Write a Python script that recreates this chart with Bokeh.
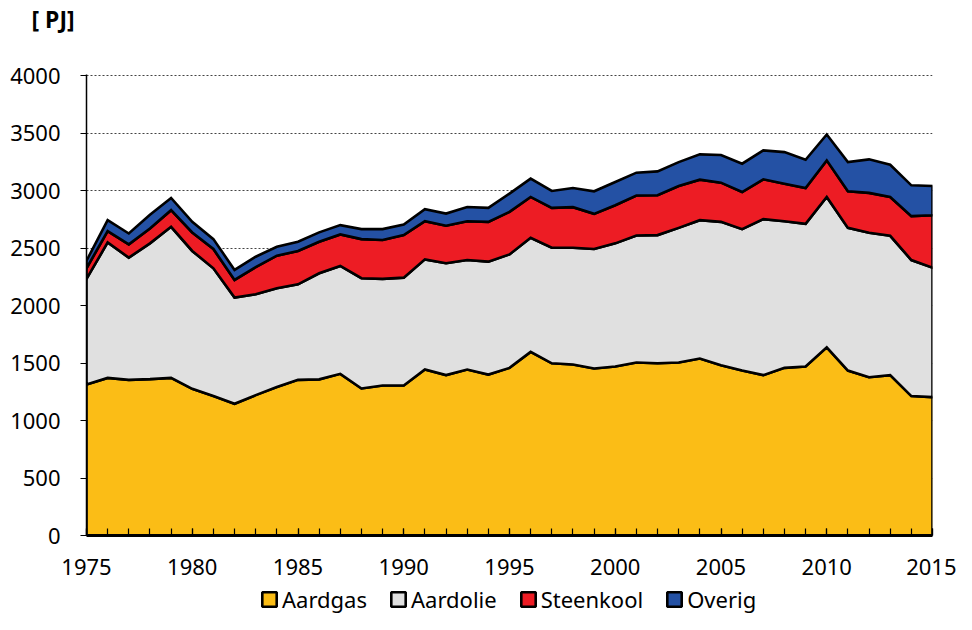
import numpy as np
from bokeh.plotting import figure
from bokeh.layouts import column
from bokeh.models import (Range1d, SingleIntervalTicker, Legend, LegendItem)
from bokeh.embed import file_html
from bokeh.resources import INLINE

years = list(range(1975, 2016))
aardgas = [1314, 1371, 1354, 1360, 1371, 1276, 1213, 1146, 1221, 1291, 1354, 1358, 1406, 1279, 1305, 1305,
           1444, 1395, 1444, 1400, 1458, 1597, 1498, 1487, 1453, 1470, 1505, 1498, 1505, 1539, 1481, 1435,
           1395, 1458, 1470, 1637, 1435, 1377, 1395, 1213, 1204]
aardolie = [918, 1178, 1063, 1181, 1314, 1199, 1111, 924, 878, 859, 831, 923, 939, 959, 927, 938,
            958, 973, 952, 982, 987, 993, 1005, 1016, 1039, 1071, 1105, 1115, 1171, 1204, 1247, 1230,
            1357, 1276, 1241, 1308, 1241, 1256, 1212, 1183, 1126]
steenkool = [92, 99, 115, 129, 145, 161, 168, 153, 236, 284, 290, 274, 274, 340, 338, 370,
             332, 326, 338, 346, 370, 355, 347, 353, 306, 332, 347, 347, 364, 352, 341, 323,
             346, 326, 312, 318, 318, 347, 338, 382, 456]
overig = [66, 95, 95, 120, 106, 92, 86, 87, 90, 78, 80, 82, 81, 87, 95, 92,
          104, 106, 124, 122, 159, 159, 147, 167, 196, 202, 199, 207, 208, 220, 241, 246,
          252, 275, 245, 225, 254, 292, 280, 268, 254]

series_names = ["Aardgas", "Aardolie", "Steenkool", "Overig"]
series_values = [aardgas, aardolie, steenkool, overig]
colors = ["#FBBD16", "#E0E0E0", "#ED1C24", "#2451A4"]
y_ticks = [0, 500, 1000, 1500, 2000, 2500, 3000, 3500, 4000]

FONT = "Noto Sans"

p = figure(width=956, height=582, output_backend="svg", toolbar_location=None,
           x_range=Range1d(1975, 2015), y_range=Range1d(0, 4010),
           min_border_left=86, min_border_right=24, min_border_top=73, min_border_bottom=47,
           title="[ PJ]\n")
p.outline_line_color = None
p.title.align = "left"
p.title.offset = -55
p.title.standoff = 0
p.title.text_line_height = 1.24
p.title.text_font = FONT
p.title.text_font_size = "23px"
p.title.text_font_style = "bold"
p.title.text_color = "black"

x = np.array(years, dtype=float)
lower = np.zeros(len(years))
for name, vals, col in zip(series_names, series_values, colors):
    upper = lower + np.array(vals, dtype=float)
    xs = np.concatenate([x, x[::-1]])
    ys = np.concatenate([upper, lower[::-1]])
    p.patch(xs, ys, fill_color=col, line_color="black", line_width=2.6, line_join="miter")
    lower = upper

# axes
p.xaxis.ticker = SingleIntervalTicker(interval=5, num_minor_ticks=5)
p.xaxis.major_tick_in = 7
p.xaxis.major_tick_out = 0
p.xaxis.minor_tick_in = 7
p.xaxis.minor_tick_out = 0
p.xaxis.axis_line_width = 3
p.xaxis.major_tick_line_width = 1.2
p.xaxis.minor_tick_line_width = 1.2
p.xaxis.major_label_standoff = 23
p.xaxis.major_label_text_font = FONT
p.xaxis.major_label_text_font_size = "22px"
p.xaxis.major_label_text_color = "black"
p.xaxis.axis_line_color = "black"

p.yaxis.ticker = y_ticks
p.yaxis.major_tick_in = 0
p.yaxis.major_tick_out = 6
p.yaxis.minor_tick_line_color = None
p.yaxis.axis_line_width = 1.5
p.yaxis.major_label_standoff = 20
p.yaxis.major_label_text_font = FONT
p.yaxis.major_label_text_font_size = "22px"
p.yaxis.major_label_text_color = "black"
p.yaxis.axis_line_color = "black"

p.xgrid.grid_line_color = None
p.ygrid.grid_line_color = "#444444"
p.ygrid.grid_line_dash = "2 2"
p.ygrid.grid_line_width = 1

# legend strip
lf = figure(width=956, height=32, output_backend="svg", toolbar_location=None,
            x_range=Range1d(0, 1), y_range=Range1d(0, 1),
            min_border_left=0, min_border_right=0, min_border_top=0, min_border_bottom=0)
lf.outline_line_color = None
lf.axis.visible = False
lf.grid.visible = False
items = []
for name, col in zip(series_names, colors):
    r = lf.patch([np.nan, np.nan, np.nan], [np.nan, np.nan, np.nan], fill_color=col,
                 line_color="black", line_width=2.6)
    items.append(LegendItem(label=name, renderers=[r]))
legend = Legend(items=items, orientation="horizontal", location=(174, 0),
                border_line_color=None, background_fill_alpha=0,
                label_text_font=FONT, label_text_font_size="22px", label_text_color="black",
                glyph_width=18, glyph_height=18, label_standoff=4, spacing=22,
                padding=0, margin=0)
lf.add_layout(legend)

layout = column(p, lf, spacing=0)
open("out.html", "w").write(file_html(layout, INLINE))
